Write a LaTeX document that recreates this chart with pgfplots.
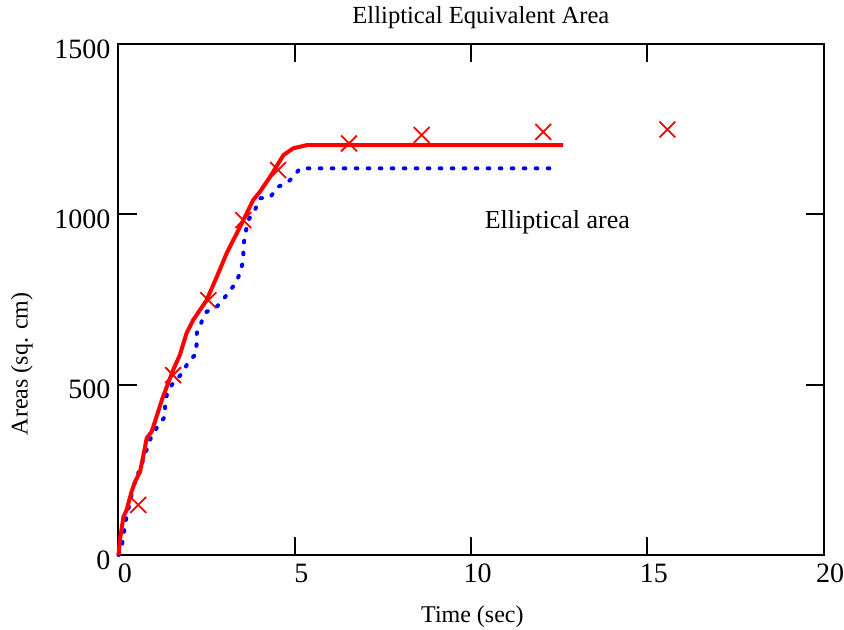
\documentclass[border=0pt]{standalone}
\usepackage{fontspec}
\setmainfont{Liberation Serif}
\usepackage{pgfplots}
\pgfplotsset{compat=1.18}
\begin{document}
\begin{tikzpicture}
\useasboundingbox (-59.25pt,-37.5pt) rectangle (362.75pt,277.5pt);
\begin{axis}[
  at={(0,0)}, anchor=south west,
  scale only axis, width=352.5pt, height=255.5pt,
  xmin=0, xmax=20, ymin=0, ymax=1500,
  clip=false,
  xtick={0,5,10,15,20}, ytick={0,500,1000,1500},
  tick align=inside, major tick length=9pt,
  axis line style={line width=1pt},
  every tick/.style={black, line width=1pt},
  /pgf/number format/assume math mode=true,
  /pgf/number format/1000 sep={},
  tick label style={font=\fontsize{14}{16}\selectfont},
  xticklabel style={xshift=3.25pt, yshift=-1pt},
  yticklabel style={yshift=-2.5pt, xshift=-0.5pt},
  xlabel={Time (sec)},
  xlabel style={at={(axis description cs:0.502,-0.12)}, anchor=center, font=\fontsize{12}{14}\selectfont},
  ylabel={Areas (sq. cm)},
  ylabel style={at={(axis description cs:-0.137,0.374)}, anchor=center, font=\fontsize{12}{14}\selectfont},
]
\addplot[blue, line width=2pt, line cap=round, dash pattern=on 0.8pt off 5.2pt] coordinates {
(0,0) (0.09,24) (0.21,103) (0.42,200) (0.70,279) (0.89,338) (1.13,382) (1.32,406) (1.32,435)
(1.37,470) (1.51,499) (1.84,538) (1.98,567) (2.17,587) (2.22,621) (2.22,651) (2.36,685)
(2.50,714) (2.79,729) (3.11,768) (3.31,797) (3.45,827) (3.54,866) (3.54,905) (3.59,939)
(3.68,983) (3.87,1013) (4.01,1047) (4.30,1050) (4.53,1081) (4.77,1091) (4.96,1110)
(5.15,1135) (12.33,1135)
};
\addplot[red, line width=2pt, line join=round] coordinates {
(0,0) (0.04,44) (0.14,112) (0.23,132) (0.37,186) (0.47,215) (0.61,244) (0.70,289) (0.80,343)
(0.94,362) (1.08,406) (1.23,455) (1.37,494) (1.55,543) (1.74,587) (1.93,651) (2.12,690)
(2.31,719) (2.50,748) (2.79,817) (3.07,886) (3.26,925) (3.54,982) (3.82,1042) (4.01,1066)
(4.30,1110) (4.68,1174) (4.96,1194) (5.34,1203) (12.61,1203)
};
\addplot[red, only marks, mark=x, mark size=5.6pt, line width=0.9pt] coordinates {
(0.56,147) (1.55,528) (2.55,748) (3.54,983) (4.53,1130) (6.54,1208) (8.60,1233) (12.05,1242) (15.57,1249)
};
\node[font=\fontsize{13}{15}\selectfont] at (axis cs:12.45,978) {Elliptical area};
\node[font=\fontsize{12.3}{14}\selectfont] at (axis description cs:0.514,1.051) {Elliptical Equivalent Area};
\end{axis}
\end{tikzpicture}
\end{document}
